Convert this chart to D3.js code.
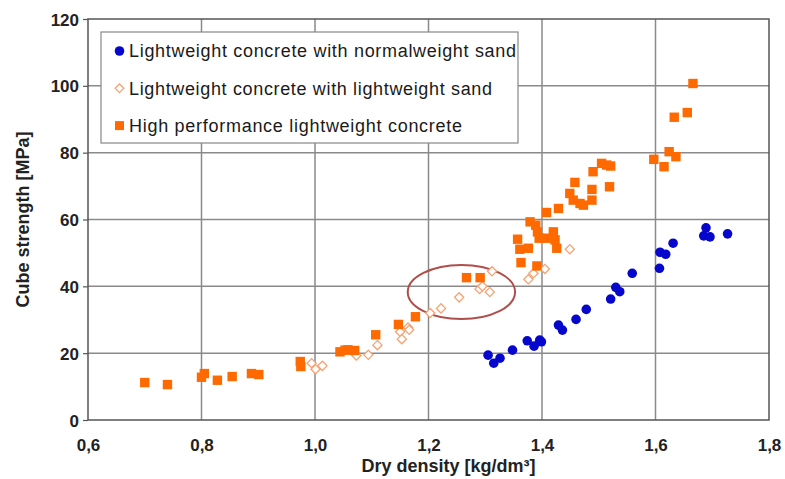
<!DOCTYPE html>
<html>
<head>
<meta charset="utf-8">
<script src="https://cdn.jsdelivr.net/npm/d3@7"></script>
<style>
  html, body { margin: 0; padding: 0; background: #fff; }
  svg { display: block; }
  text { font-family: "Liberation Sans", Arial, sans-serif; }
</style>
</head>
<body>
<svg id="chart" width="785" height="479"></svg>
<script>
// ---- Data ----
const seriesNames = [
  "Lightweight concrete with normalweight sand",
  "Lightweight concrete with lightweight sand",
  "High performance lightweight concrete"
];
const xTicks = [0.6, 0.8, 1.0, 1.2, 1.4, 1.6, 1.8];
const yTicks = [0, 20, 40, 60, 80, 100, 120];
const xTitle = "Dry density [kg/dm³]";
const yTitle = "Cube strength [MPa]";

// Lightweight concrete with normalweight sand  [density, strength]
const normalSand = [
  [1.305, 19.4], [1.315, 17.0], [1.326, 18.5], [1.348, 20.9], [1.374, 23.7],
  [1.386, 22.1], [1.396, 23.9], [1.399, 23.4], [1.429, 28.4], [1.436, 26.9],
  [1.460, 30.1], [1.478, 33.1], [1.521, 36.2], [1.530, 39.7], [1.537, 38.4],
  [1.559, 43.9], [1.607, 45.4], [1.608, 50.2], [1.618, 49.6], [1.631, 52.9],
  [1.689, 57.5], [1.685, 55.1], [1.696, 54.8], [1.727, 55.7]
];
// Lightweight concrete with lightweight sand
const lightSand = [
  [0.994, 17.0], [1.001, 15.2], [1.013, 16.2], [1.073, 19.3], [1.094, 19.5],
  [1.110, 22.4], [1.150, 26.4], [1.153, 24.2], [1.164, 27.7], [1.166, 27.0],
  [1.203, 32.0], [1.222, 33.4], [1.254, 36.7], [1.290, 39.2], [1.295, 40.0],
  [1.308, 38.3], [1.312, 44.5], [1.376, 42.1], [1.385, 43.9], [1.405, 45.2],
  [1.449, 51.1]
];
// High performance lightweight concrete
const hplc = [
  [0.700, 11.2], [0.740, 10.6], [0.800, 12.8], [0.805, 13.9], [0.828, 11.9],
  [0.854, 13.0], [0.888, 13.9], [0.901, 13.6], [0.974, 17.5], [0.975, 16.0],
  [1.044, 20.4], [1.053, 20.9], [1.058, 21.0], [1.070, 20.8], [1.107, 25.5],
  [1.147, 28.6], [1.177, 30.9], [1.267, 42.6], [1.291, 42.6], [1.357, 54.1],
  [1.361, 51.1], [1.363, 47.1], [1.376, 51.4], [1.379, 59.3], [1.389, 58.3],
  [1.392, 56.3], [1.395, 54.4], [1.391, 46.1], [1.408, 54.4], [1.420, 56.3],
  [1.423, 53.9], [1.426, 51.4], [1.408, 62.1], [1.429, 63.3], [1.449, 67.8],
  [1.455, 65.8], [1.458, 71.1], [1.467, 64.8], [1.473, 64.3], [1.488, 69.0],
  [1.488, 65.8], [1.490, 74.3], [1.505, 76.8], [1.514, 76.3], [1.521, 76.0],
  [1.519, 69.8], [1.597, 78.0], [1.615, 75.8], [1.624, 80.3], [1.636, 78.8],
  [1.633, 90.6], [1.656, 92.0], [1.666, 100.7]
];
// Highlight ellipse annotation (data units): center density, center strength, half-width, half-height
const ellipseAnno = [1.258, 38.3, 0.0946, 8.1];

// ---- Layout ----
const svg = d3.select("#chart");
const plot = { left: 88, right: 769, top: 19, bottom: 420 };
const x = d3.scaleLinear().domain([0.6, 1.8]).range([plot.left, plot.right]);
const y = d3.scaleLinear().domain([0, 120]).range([plot.bottom, plot.top]);
const fmtX = v => d3.format(".1f")(v).replace(".", ",");

const colors = { blue: "#0606cc", diamond: "#f5a273", square: "#ff6a00" };

// gridlines
svg.append("g").selectAll("line.vg")
  .data(xTicks.slice(1, -1)).join("line")
  .attr("x1", d => x(d)).attr("x2", d => x(d))
  .attr("y1", plot.top).attr("y2", plot.bottom)
  .attr("stroke", "#8a8a8a").attr("stroke-width", 1.5);
svg.append("g").selectAll("line.hg")
  .data(yTicks.slice(1, -1)).join("line")
  .attr("x1", plot.left).attr("x2", plot.right)
  .attr("y1", d => y(d)).attr("y2", d => y(d))
  .attr("stroke", "#8a8a8a").attr("stroke-width", 1.5);

// axes
const yAxis = d3.axisLeft(y).tickValues(yTicks).tickSize(5).tickFormat(d3.format("d"));
const gy = svg.append("g").attr("transform", `translate(${plot.left},0)`).call(yAxis);
gy.select(".domain").remove();
gy.selectAll(".tick line").attr("stroke", "#555").attr("stroke-width", 1.2);
gy.selectAll(".tick text")
  .attr("x", -9).attr("dy", "0.36em")
  .attr("font-size", 17).attr("font-weight", "bold").attr("fill", "#222")
  .style("font-family", '"Liberation Sans", Arial, sans-serif');

const xAxis = d3.axisBottom(x).tickValues(xTicks).tickSize(0).tickFormat(fmtX);
const gx = svg.append("g").attr("transform", `translate(0,${plot.bottom})`).call(xAxis);
gx.select(".domain").remove();
gx.selectAll(".tick text")
  .attr("y", 31).attr("dy", 0)
  .attr("font-size", 17).attr("font-weight", "bold").attr("fill", "#222")
  .style("font-family", '"Liberation Sans", Arial, sans-serif');

// frame
svg.append("rect")
  .attr("x", plot.left).attr("y", plot.top)
  .attr("width", plot.right - plot.left).attr("height", plot.bottom - plot.top)
  .attr("fill", "none").attr("stroke", "#555").attr("stroke-width", 1.5);

// axis titles
svg.append("text")
  .attr("x", (plot.left + plot.right) / 2 + 20).attr("y", 472)
  .attr("text-anchor", "middle").attr("font-size", 18).attr("font-weight", "bold").attr("fill", "#222")
  .text(xTitle);
svg.append("text")
  .attr("transform", `translate(29,${(plot.top + plot.bottom) / 2}) rotate(-90)`)
  .attr("text-anchor", "middle").attr("font-size", 18).attr("font-weight", "bold").attr("fill", "#222")
  .text(yTitle);

// ellipse annotation
svg.append("ellipse")
  .attr("cx", x(ellipseAnno[0])).attr("cy", y(ellipseAnno[1]))
  .attr("rx", x(ellipseAnno[0] + ellipseAnno[2]) - x(ellipseAnno[0]))
  .attr("ry", y(ellipseAnno[1] - ellipseAnno[3]) - y(ellipseAnno[1]))
  .attr("fill", "none").attr("stroke", "#b04e4b").attr("stroke-width", 2);

// series
const diamondPath = s => `M0,${-s}L${s},0L0,${s}L${-s},0Z`;
svg.append("g").selectAll("path")
  .data(lightSand).join("path")
  .attr("transform", d => `translate(${x(d[0])},${y(d[1])})`)
  .attr("d", diamondPath(4.6))
  .attr("fill", "#fff").attr("stroke", colors.diamond).attr("stroke-width", 1.3);
svg.append("g").selectAll("rect")
  .data(hplc).join("rect")
  .attr("x", d => x(d[0]) - 4.7).attr("y", d => y(d[1]) - 4.7)
  .attr("width", 9.4).attr("height", 9.4)
  .attr("fill", colors.square);
svg.append("g").selectAll("circle")
  .data(normalSand).join("circle")
  .attr("cx", d => x(d[0])).attr("cy", d => y(d[1])).attr("r", 4.8)
  .attr("fill", colors.blue);

// legend
const lg = svg.append("g");
lg.append("rect").attr("x", 101).attr("y", 32).attr("width", 417).attr("height", 111)
  .attr("fill", "#fff").attr("stroke", "#888").attr("stroke-width", 1.2);
const rows = lg.selectAll("g.row").data(seriesNames).join("g")
  .attr("transform", (d, i) => `translate(0,${51 + i * 37.3})`);
rows.each(function(d, i) {
  const g = d3.select(this);
  if (i === 0) g.append("circle").attr("cx", 119.5).attr("cy", 0).attr("r", 4.8).attr("fill", colors.blue);
  if (i === 1) g.append("path").attr("transform", "translate(119.5,0)").attr("d", diamondPath(4.3))
      .attr("fill", "#fff").attr("stroke", colors.diamond).attr("stroke-width", 1.3);
  if (i === 2) g.append("rect").attr("x", 115).attr("y", -4.5).attr("width", 9).attr("height", 9).attr("fill", colors.square);
});
const lw = [387, 363, 333];
rows.append("text")
  .attr("x", 129).attr("y", 0).attr("dy", "0.36em")
  .attr("font-size", 18).attr("fill", "#1a1a1a")
  .attr("textLength", (d, i) => lw[i]).attr("lengthAdjust", "spacing")
  .text(d => d);
</script>
</body>
</html>
